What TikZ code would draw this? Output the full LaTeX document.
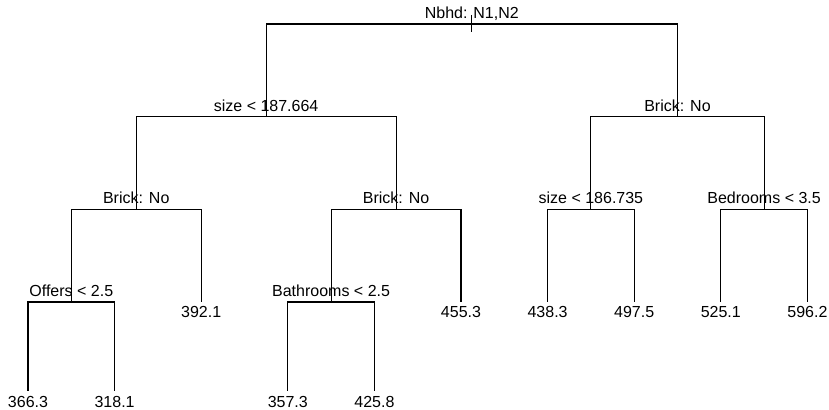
\documentclass[tikz,border=0pt]{standalone}
\usepackage{fontspec}
\setmainfont{Liberation Sans}
\begin{document}
\begin{tikzpicture}[x=0.75pt,y=-0.75pt,
  edge/.style={line width=0.8pt,black},
  split/.style={anchor=base,inner sep=0pt,font=\fontsize{12}{14}\selectfont},
  leaflab/.style={anchor=base,inner sep=0pt,font=\fontsize{12}{14}\selectfont}]
\useasboundingbox (0,0) rectangle (829,410);
% tree points
\coordinate (R) at (471.8,24);
\coordinate (A) at (266.15,116.7);
\coordinate (B) at (677.5,116.7);
\coordinate (C) at (136.25,209.3);
\coordinate (D) at (396.05,209.3);
\coordinate (E) at (590.9,209.3);
\coordinate (F) at (764.1,209.3);
\coordinate (G) at (71.3,302);
\coordinate (H) at (331.1,302);
\coordinate (L3) at (201.2,302);
\coordinate (L6) at (461,302);
\coordinate (L7) at (547.6,302);
\coordinate (L8) at (634.2,302);
\coordinate (L9) at (720.8,302);
\coordinate (L10) at (807.4,302);
\coordinate (L1) at (28,391);
\coordinate (L2) at (114.6,391);
\coordinate (L4) at (287.8,391);
\coordinate (L5) at (374.4,391);
\coordinate (Rtop) at (471.8,15);
\coordinate (Rbot) at (471.8,32);
% edges
\draw[edge] (Rtop) -- (Rbot);
\draw[edge] (R) -| (A); \draw[edge] (R) -| (B);
\draw[edge] (A) -| (C); \draw[edge] (A) -| (D);
\draw[edge] (B) -| (E); \draw[edge] (B) -| (F);
\draw[edge] (C) -| (G); \draw[edge] (C) -| (L3);
\draw[edge] (D) -| (H); \draw[edge] (D) -| (L6);
\draw[edge] (E) -| (L7); \draw[edge] (E) -| (L8);
\draw[edge] (F) -| (L9); \draw[edge] (F) -| (L10);
\draw[edge] (G) -| (L1); \draw[edge] (G) -| (L2);
\draw[edge] (H) -| (L4); \draw[edge] (H) -| (L5);
% split labels
\node[split] (tR) at ([yshift=4pt]R) {Nbhd: N1,N2};
\node[split] (tA) at ([yshift=4pt]A) {size < 187.664};
\node[split] (tB) at ([yshift=4pt]B) {Brick: No};
\node[split] (tC) at ([yshift=4pt]C) {Brick: No};
\node[split] (tD) at ([yshift=4pt]D) {Brick: No};
\node[split] (tE) at ([yshift=4pt]E) {size < 186.735};
\node[split] (tF) at ([yshift=4pt]F) {Bedrooms < 3.5};
\node[split] (tG) at ([yshift=4pt]G) {Offers < 2.5};
\node[split] (tH) at ([yshift=4pt]H) {Bathrooms < 2.5};
% leaf labels
\node[leaflab] (v1) at ([yshift=-12.5pt]L1) {366.3};
\node[leaflab] (v2) at ([yshift=-12.5pt]L2) {318.1};
\node[leaflab] (v3) at ([yshift=-11.5pt]L3) {392.1};
\node[leaflab] (v4) at ([yshift=-12.5pt]L4) {357.3};
\node[leaflab] (v5) at ([yshift=-12.5pt]L5) {425.8};
\node[leaflab] (v6) at ([yshift=-11.5pt]L6) {455.3};
\node[leaflab] (v7) at ([yshift=-11.5pt]L7) {438.3};
\node[leaflab] (v8) at ([yshift=-11.5pt]L8) {497.5};
\node[leaflab] (v9) at ([yshift=-11.5pt]L9) {525.1};
\node[leaflab] (v10) at ([yshift=-11.5pt]L10) {596.2};
\end{tikzpicture}
\end{document}
